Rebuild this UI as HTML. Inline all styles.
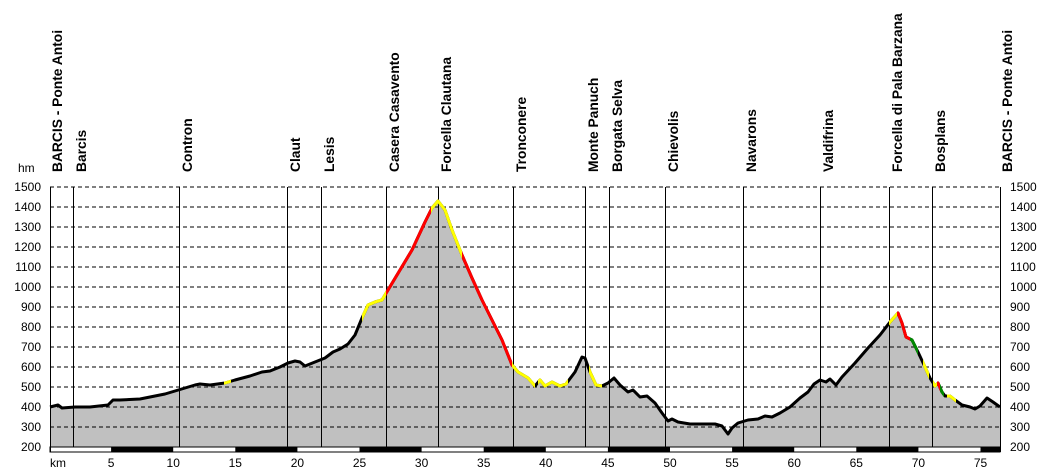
<!DOCTYPE html>
<html><head><meta charset="utf-8"><style>
html,body{margin:0;padding:0;background:#fff}
svg{display:block}
text{font-family:"Liberation Sans",Arial,sans-serif}
</style></head><body>
<svg id="s" width="1050" height="473" xmlns="http://www.w3.org/2000/svg"></svg>
<script>
const S=document.getElementById('s');let h='';
const pts=[[50,407],[58,405],[62,408],[75,407],[90,407],[108,405],[113,400],[120,400],[140,399],[150,397],[165,394],[175,391],[185,388],[195,385],[200,384],[210,385],[225,383],[235,380],[250,376],[262,372],[270,371],[280,367],[288,363],[295,361],[300,362],[305,366],[315,362],[325,358],[333,352],[340,349],[348,344],[355,335],[362,318],[368,305],[375,302],[382,300],[388,290],[400,270],[412,250],[425,222],[432,208],[438,201],[445,210],[452,230],[462,255],[472,278],[482,300],[492,320],[502,340],[512,365],[518,372],[528,378],[535,386],[540,380],[545,386],[552,382],[560,386],[566,384],[575,372],[582,357],[585,358],[590,372],[596,385],[602,386],[608,383],[614,378],[620,385],[628,392],[633,390],[640,397],[647,396],[655,403],[662,413],[668,421],[672,419],[678,422],[690,424],[705,424],[715,424],[722,426],[728,434],[732,428],[738,423],[748,420],[758,419],[765,416],[772,417],[780,413],[790,407],[800,398],[808,392],[814,384],[820,380],[826,382],[830,379],[836,385],[842,377],[855,363],[868,348],[880,335],[890,322],[898,313],[902,323],[906,337],[912,340],[918,352],[925,367],[930,378],[935,386],[938,383],[942,392],[945,396],[950,396],[955,400],[962,405],[970,407],[975,409],[980,406],[987,398],[993,402],[1000,407]];
const line=pts.map(p=>p.join(',')).join(' ');
h+=`<polygon points="50,447 ${line} 1000,447" fill="#c0c0c0"/>`;
for(let e=200;e<=1500;e+=100){const y=447-(e-200)*0.2;
 if(e>200)h+=`<line x1="50" y1="${y}" x2="1000" y2="${y}" stroke="#000" stroke-dasharray="4,3" stroke-width="1"/>`;
 h+=`<text x="41" y="${y+4}" font-size="12" text-anchor="end">${e}</text><text x="1010" y="${y+4}" font-size="12">${e}</text>`;}
h+=`<text x="18" y="172" font-size="12">hm</text>`;
const m=[[50,'BARCIS - Ponte Antoi'],[73,'Barcis'],[179,'Contron'],[287,'Claut'],[321,'Lesis'],[386,'Casera Casavento'],[438,'Forcella Clautana'],[513,'Tronconere'],[585,'Monte Panuch'],[609,'Borgata Selva'],[665,'Chievolis'],[743,'Navarons'],[820,'Valdifrina'],[889,'Forcella di Pala Barzana'],[932,'Bosplans'],[1000,'BARCIS - Ponte Antoi']];
m.forEach(([x,t])=>{h+=`<line x1="${x+.5}" y1="187" x2="${x+.5}" y2="447" stroke="#000"/>`;
 h+=`<text transform="translate(${x+(x==50||x==1000?12:13)},172) rotate(-90)" font-size="13.8" font-weight="bold">${t}</text>`;});
const segs=[[224,231,'#ff0'],[362,386,'#ff0'],[386,431,'#f00'],[431,446,'#ff0'],[446,462,'#ff0'],[462,512,'#f00'],[512,535,'#ff0'],[538,568,'#ff0'],[589,602,'#ff0'],[889,897,'#ff0'],[897,910,'#f00'],[910,918,'#080'],[923,929,'#ff0'],[933,937,'#ff0'],[937,940,'#f00'],[940,944,'#080'],[947,956,'#ff0']];
let defs='<defs>';segs.forEach((s,i)=>defs+=`<clipPath id="c${i}"><rect x="${s[0]}" y="0" width="${s[1]-s[0]}" height="473"/></clipPath>`);defs+='</defs>';
h=defs+h;
h+=`<polyline points="${line}" fill="none" stroke="#000" stroke-width="3" stroke-linejoin="round"/>`;
segs.forEach((s,i)=>h+=`<polyline clip-path="url(#c${i})" points="${line}" fill="none" stroke="${s[2]}" stroke-width="3" stroke-linejoin="round"/>`);
h+=`<rect x="50" y="447" width="950" height="5" fill="#fff" stroke="#000" stroke-width="1"/>`;
const X=k=>49+12.42*k;
for(let k=5;k<76;k+=10){const x2=Math.min(X(k+5),1000);h+=`<rect x="${X(k)}" y="447" width="${x2-X(k)}" height="5" fill="#000"/>`;}
h+=`<line x1="50.5" y1="187" x2="50.5" y2="452" stroke="#000"/><line x1="1000.5" y1="187" x2="1000.5" y2="452" stroke="#000"/>`;
h+=`<text x="50" y="467" font-size="12">km</text>`;
for(let k=5;k<=75;k+=5)h+=`<text x="${X(k)}" y="467" font-size="12" text-anchor="middle">${k}</text>`;
S.innerHTML=h;
</script>
</body></html>
